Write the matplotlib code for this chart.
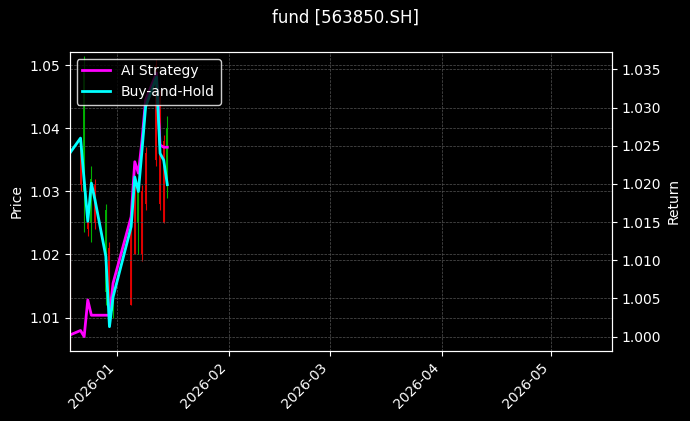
import pandas as pd
import numpy as np
import matplotlib.pyplot as plt
import matplotlib.dates as mdates

dates = pd.to_datetime([
    "2025-12-19", "2025-12-22", "2025-12-23", "2025-12-24", "2025-12-25",
    "2025-12-26", "2025-12-29", "2025-12-30", "2025-12-31", "2026-01-05",
    "2026-01-06", "2026-01-07", "2026-01-08", "2026-01-09", "2026-01-12",
    "2026-01-13", "2026-01-14", "2026-01-15",
])
open_ = [1.035, 1.037, 1.030, 1.026, 1.025, 1.031, 1.014, 1.021, 1.011, 1.024,
         1.031, 1.025, 1.030, 1.036, 1.050, 1.045, 1.038, 1.031]
close = [1.005, 1.031, 1.049, 1.024, 1.032, 1.025, 1.027, 1.009, 1.015, 1.012,
         1.020, 1.031, 1.020, 1.028, 1.035, 1.028, 1.025, 1.040]
high = [1.035, 1.038, 1.0515, 1.027, 1.034, 1.032, 1.028, 1.022, 1.016, 1.025,
        1.032, 1.032, 1.031, 1.037, 1.051, 1.046, 1.039, 1.042]
low = [1.005, 1.030, 1.0235, 1.023, 1.022, 1.024, 1.012, 1.009, 1.010, 1.012,
       1.020, 1.020, 1.019, 1.027, 1.034, 1.027, 1.025, 1.029]

ai_strategy = [1.0002, 1.0008, 1.0000, 1.0048, 1.0028, 1.0028, 1.0028, 1.0028, 1.0070,
               1.0157, 1.0229, 1.0214, 1.0257, 1.0310, 1.0345, 1.0251, 1.0248, 1.0248]
buy_hold = [1.0240, 1.0260, 1.0205, 1.0151, 1.0201, 1.0179, 1.0105, 1.0013, 1.0052,
            1.0144, 1.0209, 1.0190, 1.0244, 1.0301, 1.0340, 1.0240, 1.0231, 1.0199]

plt.style.use("dark_background")
fig, ax = plt.subplots(figsize=(6.9, 4.21), dpi=100)
fig.subplots_adjust(left=0.101, right=0.887, top=0.877, bottom=0.166)

# 蜡烛线：影线 + 实体
for d, o, c, h, l in zip(dates, open_, close, high, low):
    col = "#00b000" if c >= o else "#e00000"
    ax.vlines(d, l, h, color=col, linewidth=0.8)
    ax.vlines(d, min(o, c), max(o, c), color=col, linewidth=1.4)

ax.set_ylim(1.0047, 1.0521)
ax.set_ylabel("Price")
ax.grid(True, color="#555555", linestyle="--", linewidth=0.5)

ax2 = ax.twinx()
ax2.plot(dates, ai_strategy, color="#ff00ff", linewidth=2, label="AI Strategy")
ax2.plot(dates, buy_hold, color="#00ffff", linewidth=2, label="Buy-and-Hold")
ax2.set_ylim(0.9981, 1.0373)
ax2.set_ylabel("Return")
ax2.grid(True, color="#555555", linestyle="--", linewidth=0.5)
ax2.legend(loc="upper left", edgecolor="white", facecolor="black")

ax.set_xlim(pd.Timestamp("2025-12-19"), pd.Timestamp("2026-05-18"))
ax.xaxis.set_major_locator(mdates.MonthLocator())
ax.xaxis.set_major_formatter(mdates.DateFormatter("%Y-%m"))
plt.setp(ax.get_xticklabels(), rotation=45, ha="right")

fig.suptitle("fund [563850.SH]")
fig.savefig("out.png")
